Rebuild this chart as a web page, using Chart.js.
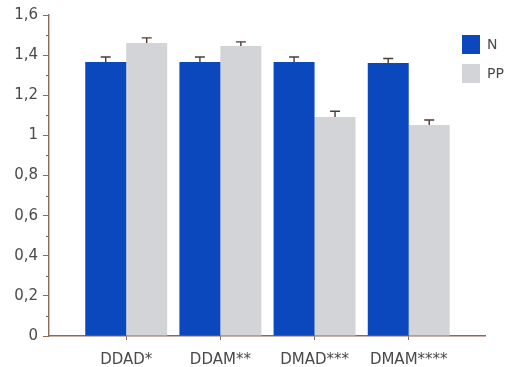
<!DOCTYPE html>
<html>
<head>
<meta charset="utf-8">
<script src="https://cdn.jsdelivr.net/npm/chart.js@4/dist/chart.umd.min.js"></script>
<style>
    html, body { margin: 0; padding: 0; background: #ffffff; }
    #wrap { width: 513px; height: 367px; }
</style>
</head>
<body>
<div id="wrap"><canvas id="chart" width="513" height="367"></canvas></div>
<script>
const categories = ['DDAD*', 'DDAM**', 'DMAD***', 'DMAM****']
const seriesNames = ['N', 'PP']
const nValues = [1.366, 1.366, 1.366, 1.361]
const nErrors = [0.025, 0.025, 0.025, 0.022]
const ppValues = [1.46, 1.446, 1.092, 1.052]
const ppErrors = [0.026, 0.02, 0.028, 0.025]
const yTicks = [0, 0.2, 0.4, 0.6, 0.8, 1, 1.2, 1.4, 1.6]

const axisColor = '#8c6a55'
const textColor = '#4a4a4a'
const fontFamily = '"DejaVu Sans", Verdana, sans-serif'

function toPoints(values) {
    return values.map((value, i) => ({ x: i, y: value }))
}

function formatTick(value) {
    return String(Number(value.toFixed(1))).replace('.', ',')
}

// upper error bars with a small cap
const errorBars = {
    id: 'errorBars',
    afterDatasetsDraw(chart) {
        const ctx = chart.ctx
        const yScale = chart.scales.y
        ctx.save()
        ctx.strokeStyle = '#4e3b36'
        ctx.lineWidth = 1.4
        chart.data.datasets.forEach((dataset, d) => {
            const meta = chart.getDatasetMeta(d)
            meta.data.forEach((bar, i) => {
                const value = dataset.data[i].y
                const top = yScale.getPixelForValue(value + dataset.errors[i])
                ctx.beginPath()
                ctx.moveTo(bar.x, bar.y)
                ctx.lineTo(bar.x, top)
                ctx.moveTo(bar.x - 5, top)
                ctx.lineTo(bar.x + 5, top)
                ctx.stroke()
            })
        })
        ctx.restore()
    }
}

// short unlabeled ticks between the labelled ones
const minorTicks = {
    id: 'minorTicks',
    afterDraw(chart) {
        const ctx = chart.ctx
        const yScale = chart.scales.y
        const left = chart.chartArea.left
        ctx.save()
        ctx.strokeStyle = axisColor
        ctx.lineWidth = 1
        for (let i = 0; i < yTicks.length - 1; i++) {
            const y = Math.round(yScale.getPixelForValue((yTicks[i] + yTicks[i + 1]) / 2)) + 0.5
            ctx.beginPath()
            ctx.moveTo(left - 3, y)
            ctx.lineTo(left, y)
            ctx.stroke()
        }
        ctx.restore()
    }
}

const sideLegend = {
    id: 'sideLegend',
    afterDraw(chart) {
        const ctx = chart.ctx
        ctx.save()
        ctx.font = '14px ' + fontFamily
        ctx.textBaseline = 'middle'
        ctx.textAlign = 'left'
        chart.data.datasets.forEach((dataset, d) => {
            const top = 35 + d * 29
            ctx.fillStyle = dataset.backgroundColor
            ctx.fillRect(462, top, 18, 19)
            ctx.fillStyle = textColor
            ctx.fillText(dataset.label, 487, top + 10)
        })
        ctx.restore()
    }
}

new Chart(document.getElementById('chart'), {
    type: 'bar',
    data: {
        datasets: [{
            label: seriesNames[0],
            data: toPoints(nValues),
            errors: nErrors,
            backgroundColor: '#0b47bd',
            borderWidth: 0,
            categoryPercentage: 0.87,
            barPercentage: 1
        }, {
            label: seriesNames[1],
            data: toPoints(ppValues),
            errors: ppErrors,
            backgroundColor: '#d3d4d7',
            borderWidth: 0,
            categoryPercentage: 0.87,
            barPercentage: 1
        }]
    },
    options: {
        responsive: false,
        animation: false,
        layout: { padding: { top: 15, right: 28, left: 0, bottom: 0 } },
        plugins: {
            legend: { display: false },
            tooltip: { enabled: false }
        },
        scales: {
            x: {
                type: 'linear',
                offset: false,
                bounds: 'data',
                min: -0.82,
                max: 3.81,
                afterBuildTicks: scale => {
                    scale.ticks = categories.map((_, i) => ({ value: i }))
                },
                afterFit: scale => { scale.height = 31 },
                border: { color: axisColor, width: 1.4 },
                grid: { offset: false, drawOnChartArea: false, drawTicks: true, tickLength: 4, color: axisColor },
                ticks: {
                    padding: 11,
                    maxRotation: 0,
                    autoSkip: false,
                    color: textColor,
                    font: { family: fontFamily, size: 15 },
                    callback: value => categories[value]
                }
            },
            y: {
                min: 0,
                max: 1.6,
                afterBuildTicks: scale => {
                    scale.ticks = yTicks.map(value => ({ value }))
                },
                afterFit: scale => { scale.width = 49 },
                border: { color: axisColor, width: 1.4 },
                grid: { drawOnChartArea: false, drawTicks: true, tickLength: 6, color: axisColor },
                ticks: {
                    padding: 5,
                    color: textColor,
                    font: { family: fontFamily, size: 15 },
                    callback: value => formatTick(value)
                }
            }
        }
    },
    plugins: [errorBars, minorTicks, sideLegend]
})
</script>
</body>
</html>
